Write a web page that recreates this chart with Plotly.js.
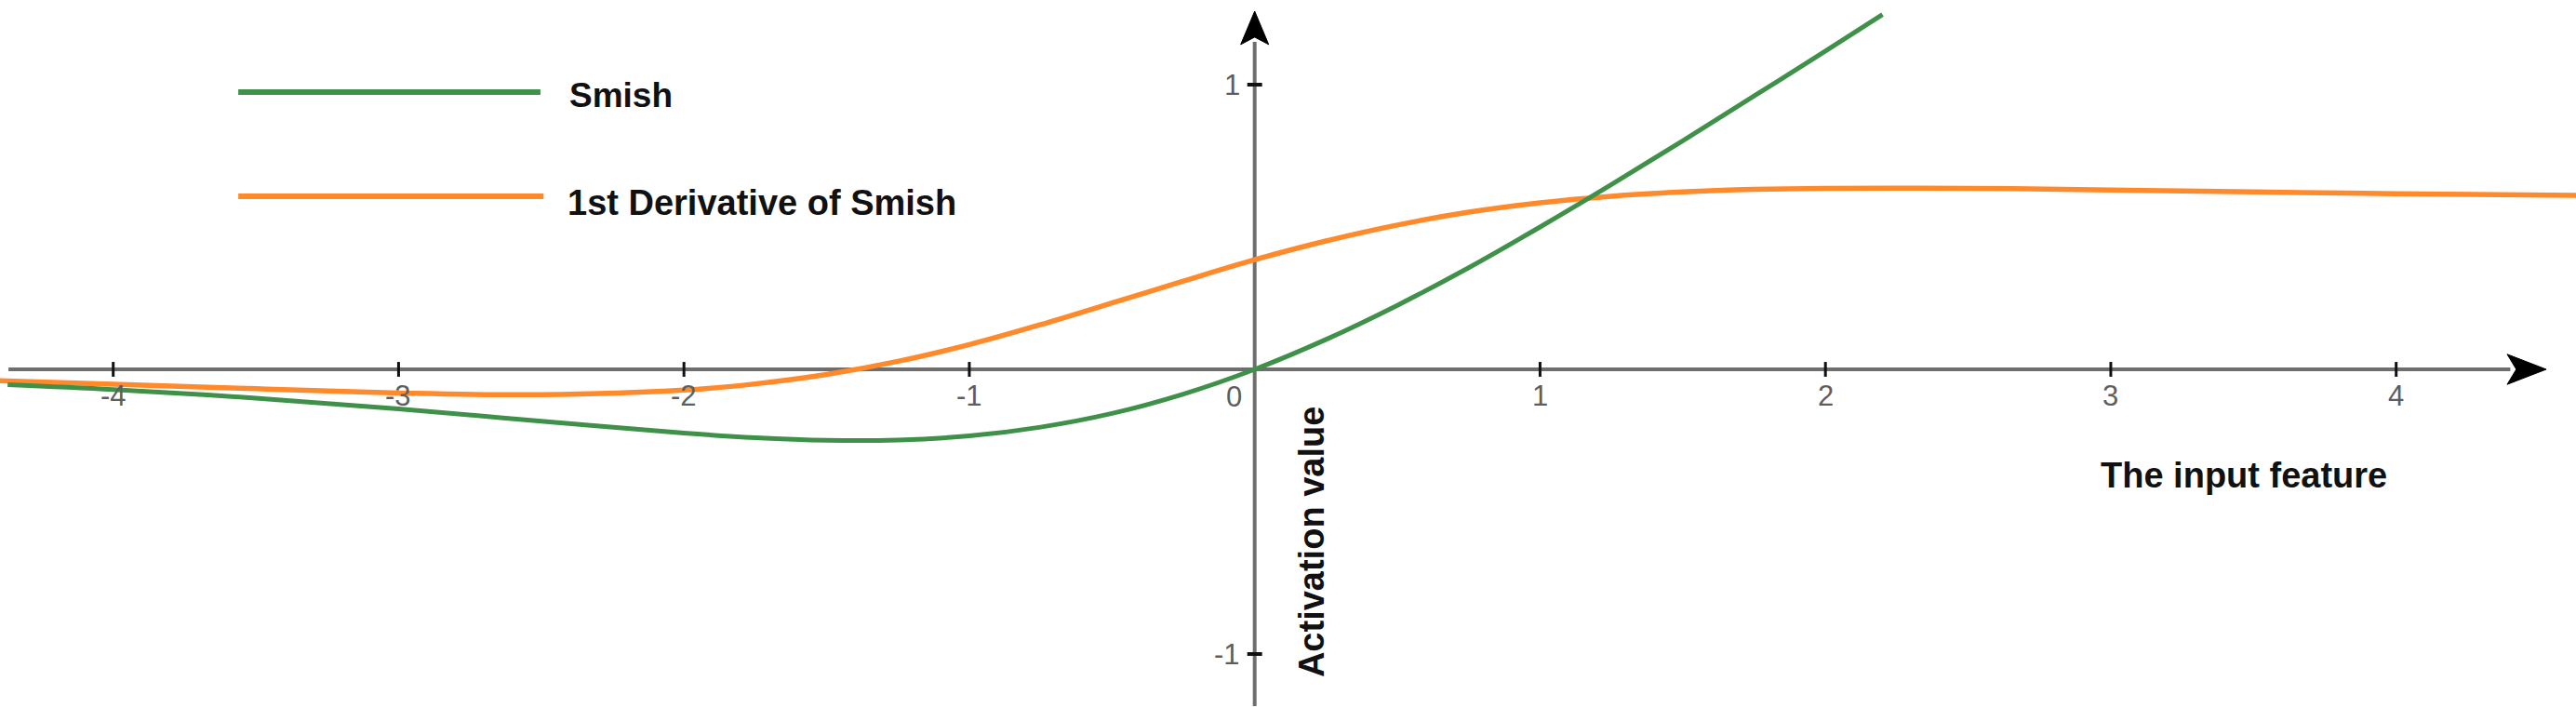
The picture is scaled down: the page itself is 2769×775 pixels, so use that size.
<!DOCTYPE html>
<html>
<head>
<meta charset="utf-8">
<script src="https://cdn.plot.ly/plotly-3.0.1.min.js"></script>
<style>
  html, body { margin: 0; padding: 0; background: #fff; }
  #chart { width: 2769px; height: 775px; }
</style>
</head>
<body>
<div id="chart"></div>
<script>
// ---- Data ----
const seriesNames = ['Smish', '1st Derivative of Smish'];

const smishX = [-4.37, -4, -3.5, -3, -2.5, -2, -1.75, -1.5, -1.25, -1, -0.75, -0.5, -0.25, 0,
                0.25, 0.5, 0.75, 1, 1.25, 1.5, 1.75, 2, 2.2];
const smishY = [-0.054, -0.071, -0.101, -0.139, -0.182, -0.224, -0.240, -0.249, -0.248, -0.234,
                -0.203, -0.155, -0.087, 0, 0.105, 0.225, 0.357, 0.500, 0.649, 0.803, 0.960, 1.118, 1.246];

const derivX = [-4.4, -4, -3.5, -3, -2.5, -2, -1.75, -1.5, -1.25, -1, -0.75, -0.5, -0.25, 0,
                0.25, 0.5, 0.75, 1, 1.25, 1.5, 1.75, 2, 2.5, 3, 3.5, 4, 4.65];
const derivY = [-0.040, -0.052, -0.068, -0.083, -0.089, -0.073, -0.051, -0.018, 0.028, 0.087,
                0.157, 0.233, 0.310, 0.385, 0.451, 0.507, 0.552, 0.585, 0.608, 0.623, 0.632,
                0.636, 0.636, 0.630, 0.623, 0.617, 0.611];

const xTickVals = [-4, -3, -2, -1, 1, 2, 3, 4];
const xTickLabels = ['-4', '-3', '-2', '-1', '1', '2', '3', '4'];
const yTickVals = [-1, 1];
const yTickLabels = ['-1', '1'];
const originLabel = '0';

const xTitle = 'The input feature';
const yTitle = 'Activation value';

// ---- Style / layout constants ----
const GREEN = '#3f9149';
const ORANGE = '#ff8a2b';
const AXIS_GRAY = '#6e6e6e';
const LABEL_GRAY = '#5e5e5e';
const FONT = 'Liberation Sans, Arial, sans-serif';

const X_RANGE = [-4.3967, 4.6302];
const Y_RANGE = [-1.2353, 1.2974];

const X_AXIS_START = -4.367, X_AXIS_END = 4.40;
const Y_AXIS_START = -1.183, Y_AXIS_END = 1.15;
const X_TIP = 4.526, X_BACK = 4.389, X_NOTCH = 4.421, X_HALF = 0.053;
const Y_TIP = 1.258, Y_BACK = 1.141, Y_NOTCH = 1.167, Y_HALF = 0.049;
const TICK_HALF = 0.026;

const traces = [
  {
    x: derivX, y: derivY, name: seriesNames[1], type: 'scatter', mode: 'lines',
    line: { color: ORANGE, width: 5.5, shape: 'spline', smoothing: 1 },
    showlegend: false, hoverinfo: 'skip'
  },
  {
    x: smishX, y: smishY, name: seriesNames[0], type: 'scatter', mode: 'lines',
    line: { color: GREEN, width: 5, shape: 'spline', smoothing: 1 },
    showlegend: false, hoverinfo: 'skip'
  }
];

const shapes = [];
// axis shafts
shapes.push({ type: 'line', xref: 'x', yref: 'y', x0: X_AXIS_START, x1: X_AXIS_END, y0: 0, y1: 0,
              line: { color: AXIS_GRAY, width: 4 }, layer: 'below' });
shapes.push({ type: 'line', xref: 'x', yref: 'y', x0: 0, x1: 0, y0: Y_AXIS_START, y1: Y_AXIS_END,
              line: { color: AXIS_GRAY, width: 4 }, layer: 'below' });
// arrowheads
shapes.push({ type: 'path', xref: 'x', yref: 'y',
  path: `M${X_TIP},0 L${X_BACK},${X_HALF} L${X_NOTCH},0 L${X_BACK},${-X_HALF} Z`,
  fillcolor: '#000', line: { color: '#000', width: 1 }, layer: 'below' });
shapes.push({ type: 'path', xref: 'x', yref: 'y',
  path: `M0,${Y_TIP} L${-Y_HALF},${Y_BACK} L0,${Y_NOTCH} L${Y_HALF},${Y_BACK} Z`,
  fillcolor: '#000', line: { color: '#000', width: 1 }, layer: 'below' });
// tick marks
xTickVals.forEach(v => shapes.push({ type: 'line', xref: 'x', yref: 'y', x0: v, x1: v,
  y0: -TICK_HALF, y1: TICK_HALF, line: { color: '#111', width: 3 }, layer: 'below' }));
yTickVals.forEach(v => shapes.push({ type: 'line', xref: 'x', yref: 'y', x0: -TICK_HALF, x1: TICK_HALF,
  y0: v, y1: v, line: { color: '#111', width: 4 }, layer: 'below' }));
// legend sample lines
shapes.push({ type: 'line', xref: 'paper', yref: 'paper', x0: 0.0925, x1: 0.2098, y0: 0.8723, y1: 0.8723,
              line: { color: GREEN, width: 6 } });
shapes.push({ type: 'line', xref: 'paper', yref: 'paper', x0: 0.0925, x1: 0.2110, y0: 0.7277, y1: 0.7277,
              line: { color: ORANGE, width: 6 } });

const annotations = [];
xTickVals.forEach((v, i) => annotations.push({
  x: v, y: 0, xref: 'x', yref: 'y', text: xTickLabels[i], showarrow: false,
  xanchor: 'center', yanchor: 'middle', yshift: -28,
  font: { family: FONT, size: 31, color: LABEL_GRAY }
}));
yTickVals.forEach((v, i) => annotations.push({
  x: 0, y: v, xref: 'x', yref: 'y', text: yTickLabels[i], showarrow: false,
  xanchor: 'right', yanchor: 'middle', xshift: -14,
  font: { family: FONT, size: 31, color: LABEL_GRAY }
}));
annotations.push({
  x: 0, y: 0, xref: 'x', yref: 'y', text: originLabel, showarrow: false,
  xanchor: 'right', yanchor: 'middle', xshift: -12, yshift: -29,
  font: { family: FONT, size: 31, color: LABEL_GRAY }
});
annotations.push({
  x: 3.466, y: -0.372, xref: 'x', yref: 'y', text: '<b>' + xTitle + '</b>', showarrow: false,
  xanchor: 'center', yanchor: 'middle',
  font: { family: FONT, size: 38, color: '#111' }
});
annotations.push({
  x: 0.200, y: -0.608, xref: 'x', yref: 'y', text: '<b>' + yTitle + '</b>', showarrow: false,
  textangle: -90, xanchor: 'center', yanchor: 'middle',
  font: { family: FONT, size: 38, color: '#111' }
});
annotations.push({
  x: 0.2203, y: 0.8671, xref: 'paper', yref: 'paper', text: '<b>' + seriesNames[0] + '</b>', showarrow: false,
  xanchor: 'left', yanchor: 'middle',
  font: { family: FONT, size: 37, color: '#111' }
});
annotations.push({
  x: 0.2196, y: 0.7187, xref: 'paper', yref: 'paper', text: '<b>' + seriesNames[1] + '</b>', showarrow: false,
  xanchor: 'left', yanchor: 'middle',
  font: { family: FONT, size: 38, color: '#111' }
});

const layout = {
  width: 2769, height: 775,
  margin: { l: 0, r: 0, t: 0, b: 0, pad: 0 },
  paper_bgcolor: '#fff', plot_bgcolor: '#fff',
  showlegend: false,
  xaxis: { range: X_RANGE, visible: false, showgrid: false, zeroline: false, fixedrange: true },
  yaxis: { range: Y_RANGE, visible: false, showgrid: false, zeroline: false, fixedrange: true },
  shapes: shapes,
  annotations: annotations
};

Plotly.newPlot('chart', traces, layout, { staticPlot: true, displayModeBar: false });
</script>
</body>
</html>
